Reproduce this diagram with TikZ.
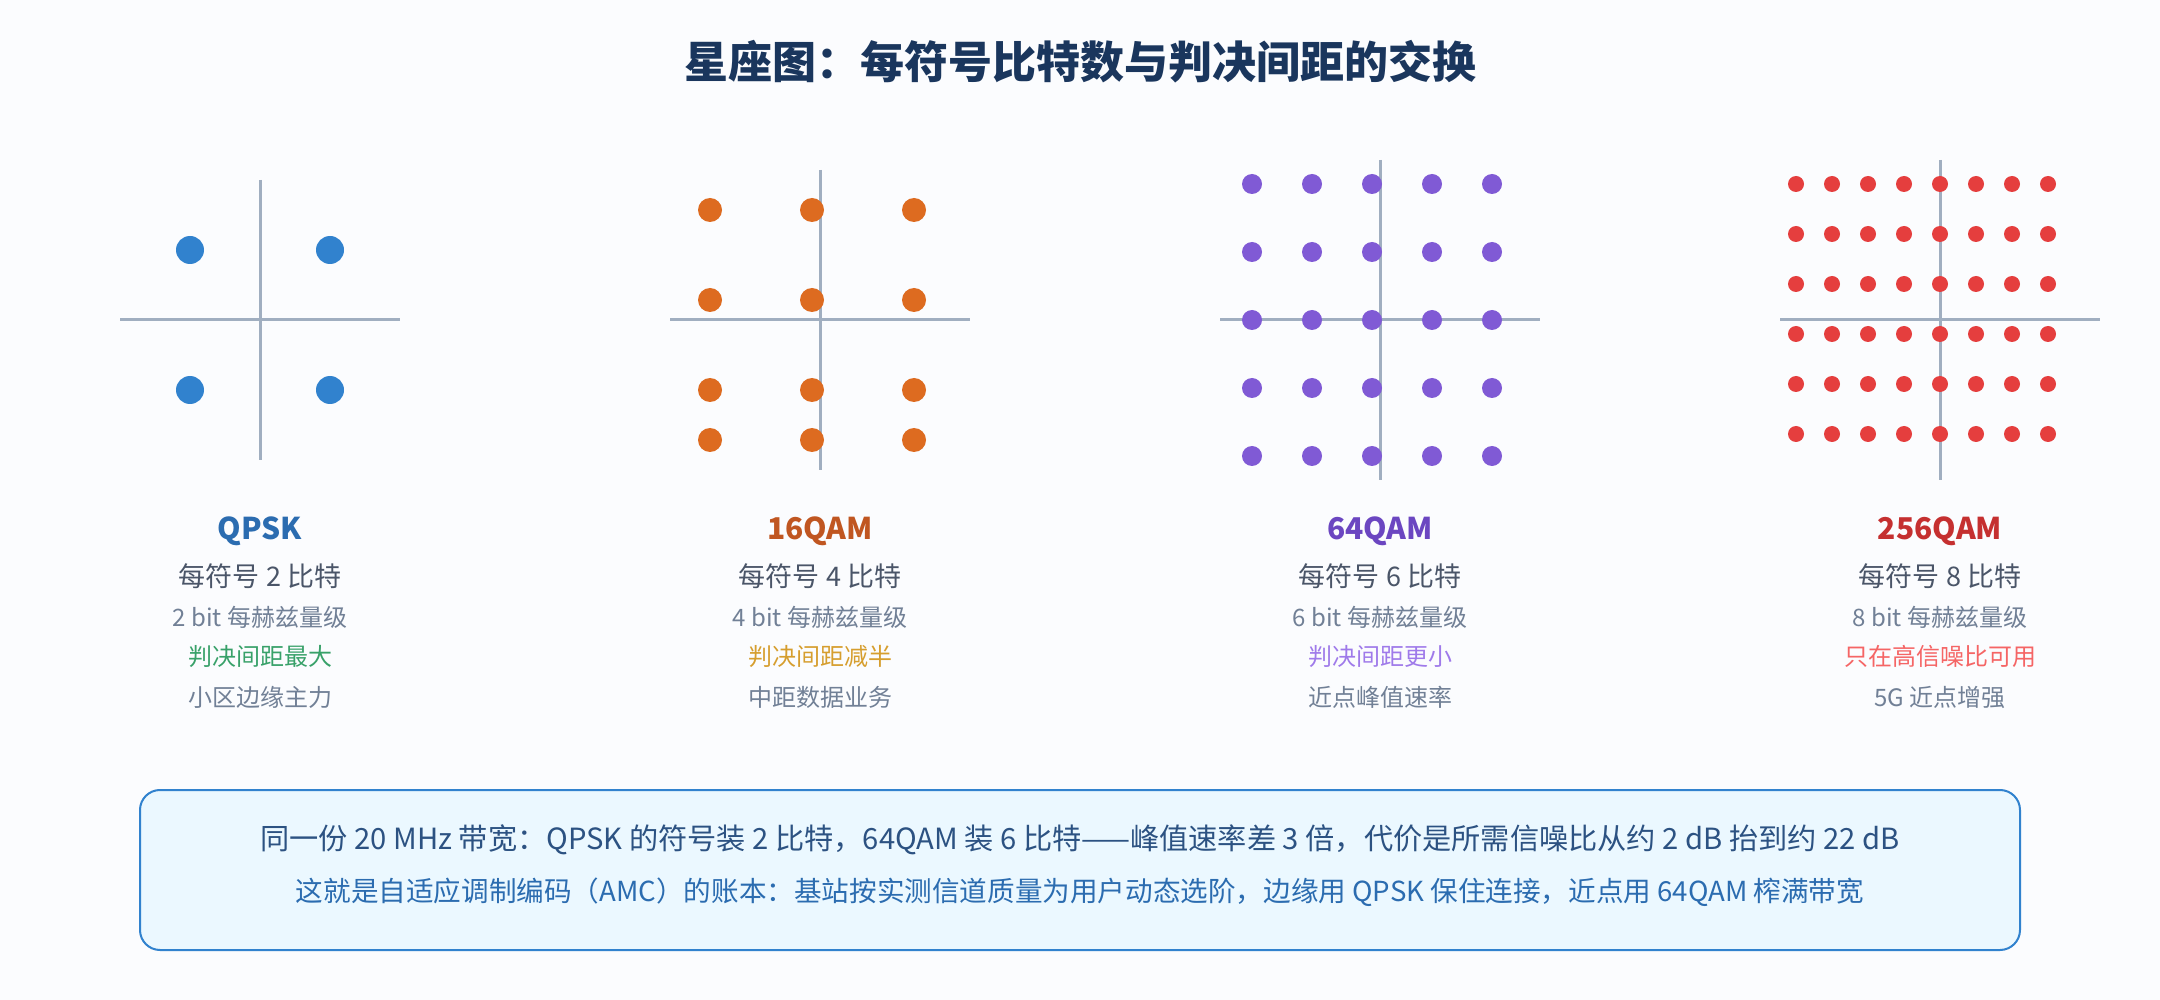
\documentclass[tikz,border=0pt]{standalone}
\usepackage{fontspec}
\setmainfont{Noto Sans CJK SC}
\usepackage{xcolor}
\usetikzlibrary{calc}

\definecolor{pagebg}{HTML}{FBFCFE}
\definecolor{titlenavy}{HTML}{1A365D}
\definecolor{axisgray}{HTML}{A0AEC0}
\definecolor{darkgray}{HTML}{4A5568}
\definecolor{midgray}{HTML}{718096}
\definecolor{qpskblue}{HTML}{3182CE}
\definecolor{qpskname}{HTML}{2B6CB0}
\definecolor{qpsknote}{HTML}{38A169}
\definecolor{qamorange}{HTML}{DD6B20}
\definecolor{qamoname}{HTML}{C05621}
\definecolor{qamonote}{HTML}{D69E2E}
\definecolor{qampurple}{HTML}{805AD5}
\definecolor{qampname}{HTML}{6B46C1}
\definecolor{qampnote}{HTML}{9F7AEA}
\definecolor{qamred}{HTML}{E53E3E}
\definecolor{qamrname}{HTML}{C53030}
\definecolor{qamrnote}{HTML}{F56565}
\definecolor{boxfill}{HTML}{EBF8FF}
\definecolor{boxline}{HTML}{3182CE}
\definecolor{boxtextdark}{HTML}{2C5282}
\definecolor{boxtext}{HTML}{2B6CB0}

\begin{document}
\begin{tikzpicture}[x=0.5pt, y=-0.5pt,
  axis/.style={draw=axisgray, line width=1.5pt},
  modname/.style={inner sep=0pt, font=\bfseries\fontsize{15}{18}\selectfont},
  bitsline/.style={inner sep=0pt, text=darkgray, font=\fontsize{13.5}{16}\selectfont},
  hzline/.style={inner sep=0pt, text=midgray, font=\fontsize{12}{14}\selectfont},
  noteline/.style={inner sep=0pt, font=\fontsize{12}{14}\selectfont},
  notebox/.style={draw=boxline, fill=boxfill, line width=1pt, rounded corners=10pt},
  boxline1/.style={inner sep=0pt, text=boxtextdark, font=\fontsize{14.6}{17}\selectfont},
  boxline2/.style={inner sep=0pt, text=boxtext, font=\fontsize{13.8}{17}\selectfont}]

  % page
  \fill[pagebg] (0,0) rectangle (2160,1000);
  \useasboundingbox (0,0) rectangle (2160,1000);

  % Title
  \node[inner sep=0pt, text=titlenavy, font=\bfseries\fontsize{22}{26}\selectfont] (title) at (1080,62) {星座图：每符号比特数与判决间距的交换};

  % QPSK constellation
  \draw[axis] (120,320) -- (400,320);
  \draw[axis] (260,180) -- (260,460);
  \foreach \x in {190,330}
    \foreach \y in {250,390}
      \fill[qpskblue] (\x,\y) circle[radius=7pt];

  % 16QAM constellation
  \draw[axis] (670,320) -- (970,320);
  \draw[axis] (820,170) -- (820,470);
  \foreach \x in {710,812,914}
    \foreach \y in {210,300,390,440}
      \fill[qamorange] (\x,\y) circle[radius=6pt];

  % 64QAM constellation
  \draw[axis] (1220,320) -- (1540,320);
  \draw[axis] (1380,160) -- (1380,480);
  \foreach \x in {1252,1312,1372,1432,1492}
    \foreach \y in {184,252,320,388,456}
      \fill[qampurple] (\x,\y) circle[radius=5pt];

  % 256QAM constellation
  \draw[axis] (1780,320) -- (2100,320);
  \draw[axis] (1940,160) -- (1940,480);
  \foreach \x in {1796,1832,...,2048}
    \foreach \y in {184,234,...,434}
      \fill[qamred] (\x,\y) circle[radius=4pt];

  % Labels under each constellation
  \node[modname, text=qpskname] (qpsk) at (260,531) {QPSK};
  \node[bitsline] (qpsk-bits) at (260,576) {每符号 2 比特};
  \node[hzline] (qpsk-hz) at (260,617) {2 bit 每赫兹量级};
  \node[noteline, text=qpsknote] (qpsk-gap) at (260,656) {判决间距最大};
  \node[hzline] (qpsk-use) at (260,697) {小区边缘主力};

  \node[modname, text=qamoname] (qam16) at (820,531) {16QAM};
  \node[bitsline] (qam16-bits) at (820,576) {每符号 4 比特};
  \node[hzline] (qam16-hz) at (820,617) {4 bit 每赫兹量级};
  \node[noteline, text=qamonote] (qam16-gap) at (820,656) {判决间距减半};
  \node[hzline] (qam16-use) at (820,697) {中距数据业务};

  \node[modname, text=qampname] (qam64) at (1380,531) {64QAM};
  \node[bitsline] (qam64-bits) at (1380,576) {每符号 6 比特};
  \node[hzline] (qam64-hz) at (1380,617) {6 bit 每赫兹量级};
  \node[noteline, text=qampnote] (qam64-gap) at (1380,656) {判决间距更小};
  \node[hzline] (qam64-use) at (1380,697) {近点峰值速率};

  \node[modname, text=qamrname] (qam256) at (1940,531) {256QAM};
  \node[bitsline] (qam256-bits) at (1940,576) {每符号 8 比特};
  \node[hzline] (qam256-hz) at (1940,617) {8 bit 每赫兹量级};
  \node[noteline, text=qamrnote] (qam256-gap) at (1940,656) {只在高信噪比可用};
  \node[hzline] (qam256-use) at (1940,697) {5G 近点增强};

  % Summary box
  \draw[notebox] (140,790) rectangle (2020,950);
  \node[boxline1] (summary) at (1080,840) {同一份 20 MHz 带宽：QPSK 的符号装 2 比特，64QAM 装 6 比特——峰值速率差 3 倍，代价是所需信噪比从约 2 dB 抬到约 22 dB};
  \node[boxline2] (amc) at (1080,892) {这就是自适应调制编码（AMC）的账本：基站按实测信道质量为用户动态选阶，边缘用 QPSK 保住连接，近点用 64QAM 榨满带宽};
\end{tikzpicture}
\end{document}
